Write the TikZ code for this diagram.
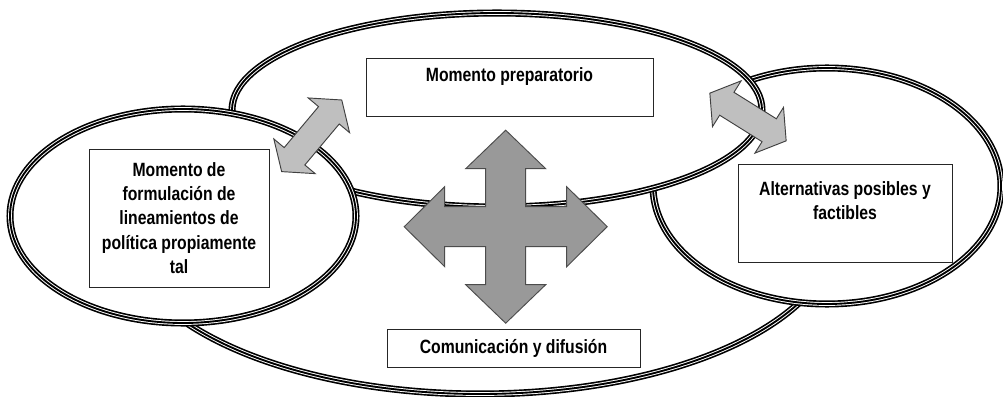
\documentclass[tikz,border=0pt]{standalone}
\usepackage{fontspec}
\newfontfamily\narrowfont{Liberation Sans}[FakeStretch=0.82]
\begin{document}
\begin{tikzpicture}[x=0.03cm,y=-0.03cm,
    ring/.style={fill=white,draw=black,line width=6pt,
        postaction={draw=white,line width=3.2pt},
        postaction={draw=black,line width=1.6pt}},
    stagebox/.style={draw=black!85,fill=white,line width=0.8pt,align=center,inner sep=0pt,
        font=\narrowfont\bfseries\fontsize{16.4}{20.8}\selectfont},
    bigarrow/.style={draw=black!70,fill=black!40,line width=0.8pt},
    linkarrow/.style={draw=black!75,fill=black!25,line width=0.8pt}]
    \useasboundingbox (0,0) rectangle (1003,397);
    % the four rings, back to front
    \draw[ring] (480,230) ellipse [x radius=356, y radius=164];
    \draw[ring] (827,186) ellipse [x radius=174, y radius=118];
    \draw[ring] (497,110) ellipse [x radius=265, y radius=97];
    \draw[ring] (183,216) ellipse [x radius=173, y radius=107];
    % boxes
    \node[stagebox,minimum width=8.61cm,minimum height=1.74cm] (prep) at (509.5,87) {Momento preparatorio\\~};
    \node[stagebox,minimum width=5.4cm,minimum height=4.14cm] (form) at (179,218) {Momento de\\formulación de\\lineamientos de\\política propiamente\\tal};
    \node[stagebox,minimum width=6.42cm,minimum height=2.94cm] (alt) at (845,213) {Alternativas posibles y\\factibles\\~};
    \node[stagebox,minimum width=7.59cm,minimum height=1.14cm] (com) at (513.5,348) {Comunicación y difusión};
    % four-way arrow
    \draw[bigarrow,shift={(505.7,226.7)}] (0,-96.5) -- (40,-58) -- (20,-58) -- (20,-20) -- (61,-20) -- (61,-40) -- (101.5,0)
        -- (61,40) -- (61,20) -- (20,20) -- (20,58) -- (40,58) -- (0,96.5) -- (-40,58) -- (-20,58) -- (-20,20)
        -- (-61,20) -- (-61,40) -- (-101.5,0) -- (-61,-40) -- (-61,-20) -- (-20,-20) -- (-20,-58) -- (-40,-58) -- cycle;
    % links between the rings
    \draw[linkarrow,shift={(311.7,135.8)},rotate=50] (46.75,0) -- (26.75,27) -- (26.75,13.5) -- (-26.75,13.5) -- (-26.75,27)
        -- (-46.75,0) -- (-26.75,-27) -- (-26.75,-13.5) -- (26.75,-13.5) -- (26.75,-27) -- cycle;
    \draw[linkarrow,shift={(748,117)},rotate=-32] (45,0) -- (25,27) -- (25,13.5) -- (-25,13.5) -- (-25,27)
        -- (-45,0) -- (-25,-27) -- (-25,-13.5) -- (25,-13.5) -- (25,-27) -- cycle;
\end{tikzpicture}
\end{document}
